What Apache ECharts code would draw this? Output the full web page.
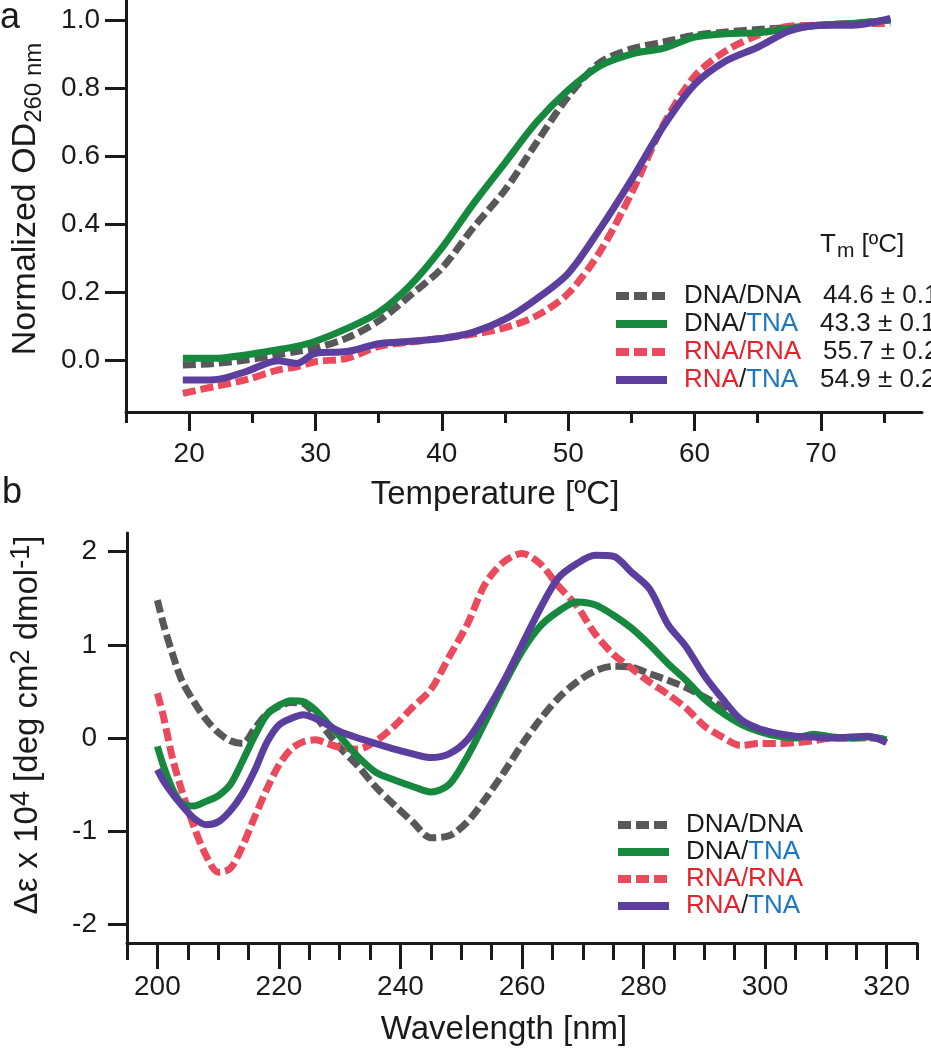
<!DOCTYPE html>
<html>
<head>
    <meta charset="utf-8"/>
    <title>Melting curves and CD spectra</title>
    <script src="https://cdn.jsdelivr.net/npm/echarts@6/dist/echarts.min.js"></script>
    <style>
        html, body { margin: 0; padding: 0; background: #fff; }
        #chart { width: 931px; height: 1050px; }
    </style>
</head>
<body>
<div id="chart"></div>
<script type="text/javascript">
    // panel a: melting curves (normalized OD260) vs temperature
    var tempC = [19.5, 22, 24.5, 27, 28.5, 30, 32.5, 35, 37.5, 40, 42.5, 45, 47.5, 50, 52.5, 55, 57.5, 60, 62.5, 65, 67.5, 70, 72.5, 75.5];
    var meltDnaDna = [-0.015, -0.01, 0.0, 0.015, 0.025, 0.035, 0.065, 0.115, 0.19, 0.27, 0.39, 0.5, 0.64, 0.775, 0.875, 0.915, 0.935, 0.955, 0.965, 0.972, 0.978, 0.985, 0.99, 1.0];
    var meltDnaTna = [0.005, 0.005, 0.015, 0.03, 0.04, 0.055, 0.093, 0.14, 0.22, 0.33, 0.46, 0.58, 0.70, 0.794, 0.865, 0.90, 0.917, 0.95, 0.96, 0.963, 0.975, 0.985, 0.99, 1.0];
    var meltRnaRna = [-0.098, -0.078, -0.058, -0.03, -0.02, -0.005, 0.005, 0.04, 0.053, 0.064, 0.076, 0.095, 0.13, 0.196, 0.318, 0.49, 0.69, 0.835, 0.91, 0.955, 0.982, 0.985, 0.99, 0.99];
    var meltRnaTna = [-0.059, -0.058, -0.034, -0.002, -0.01, 0.02, 0.025, 0.048, 0.055, 0.063, 0.082, 0.12, 0.18, 0.255, 0.385, 0.53, 0.685, 0.81, 0.88, 0.92, 0.968, 0.985, 0.985, 1.005];
    var tmValues = ['44.6 ± 0.1', '43.3 ± 0.1', '55.7 ± 0.2', '54.9 ± 0.2'];

    // panel b: CD spectra
    var waveNm = [200, 201, 202.5, 204, 206, 208, 210, 212, 214, 216, 218, 220, 222, 224, 226, 228, 230, 233, 236, 239, 242, 245, 248, 251, 254, 257, 260, 263, 266, 269, 272, 275, 278, 281, 284, 287, 290, 293, 296, 299, 302, 305, 308, 311, 314, 317, 320];
    var cdDnaDna = [1.48, 1.22, 0.9, 0.62, 0.39, 0.2, 0.06, -0.03, -0.06, 0.1, 0.26, 0.34, 0.38, 0.37, 0.24, 0.06, -0.1, -0.3, -0.53, -0.72, -0.9, -1.07, -1.05, -0.9, -0.65, -0.37, -0.07, 0.2, 0.43, 0.6, 0.72, 0.77, 0.76, 0.69, 0.62, 0.54, 0.44, 0.33, 0.18, 0.1, 0.04, 0.01, 0.03, 0.01, 0.0, 0.01, -0.02];
    var cdDnaTna = [-0.09, -0.3, -0.55, -0.7, -0.73, -0.68, -0.62, -0.5, -0.25, 0.02, 0.25, 0.35, 0.4, 0.39, 0.3, 0.16, 0.02, -0.2, -0.37, -0.45, -0.52, -0.58, -0.5, -0.2, 0.18, 0.57, 0.93, 1.2, 1.36, 1.46, 1.43, 1.32, 1.18, 1.0, 0.8, 0.62, 0.42, 0.27, 0.15, 0.07, 0.02, 0.0, 0.04, 0.01, 0.0, 0.01, -0.02];
    var cdRnaRna = [0.48, 0.23, -0.22, -0.56, -0.95, -1.26, -1.44, -1.4, -1.16, -0.85, -0.55, -0.29, -0.12, -0.04, -0.02, -0.06, -0.1, -0.12, -0.03, 0.13, 0.33, 0.52, 0.87, 1.22, 1.66, 1.89, 1.98, 1.87, 1.63, 1.42, 1.12, 0.9, 0.75, 0.6, 0.47, 0.32, 0.13, 0.01, -0.08, -0.06, -0.06, -0.05, -0.03, 0.0, 0.0, 0.0, -0.02];
    var cdRnaTna = [-0.34, -0.46, -0.6, -0.72, -0.86, -0.93, -0.9, -0.78, -0.6, -0.35, -0.05, 0.14, 0.21, 0.25, 0.21, 0.14, 0.07, 0.0, -0.06, -0.12, -0.17, -0.21, -0.17, -0.02, 0.27, 0.61, 1.0, 1.39, 1.72, 1.87, 1.96, 1.95, 1.78, 1.6, 1.22, 0.98, 0.67, 0.42, 0.2, 0.1, 0.05, 0.02, 0.01, 0.0, 0.01, 0.02, -0.05];

    // tick values
    var tempMajor = [20, 30, 40, 50, 60, 70];
    var tempMinor = [15, 25, 35, 45, 55, 65, 75];
    var odTicks = [0, 0.2, 0.4, 0.6, 0.8, 1.0];
    var waveMajor = [200, 220, 240, 260, 280, 300, 320];
    var waveMinor = [195, 205, 210, 215, 225, 230, 235, 245, 250, 255, 265, 270, 275, 285, 290, 295, 305, 310, 315, 325];
    var cdTicks = [-2, -1, 0, 1, 2];

    var names = ['DNA/DNA', 'DNA/TNA', 'RNA/RNA', 'RNA/TNA'];
    var colors = {'DNA/DNA': '#58585a', 'DNA/TNA': '#17893f', 'RNA/RNA': '#ea4a5c', 'RNA/TNA': '#5b3e9e'};
    var dashed = {'DNA/DNA': true, 'DNA/TNA': false, 'RNA/RNA': true, 'RNA/TNA': false};
    var richNames = {
        'DNA/DNA': '{k|DNA/DNA}',
        'DNA/TNA': '{k|DNA/}{b|TNA}',
        'RNA/RNA': '{r|RNA/RNA}',
        'RNA/TNA': '{r|RNA}{k|/}{b|TNA}'
    };

    var FONT = "'Liberation Sans', Arial, sans-serif";
    var INK = '#1a1a1a';

    function pairs(xs, ys) {
        return xs.map(function (x, i) { return [x, ys[i]]; });
    }

    function lineSeries(name, xi, yi, xs, ys) {
        return {
            name: name,
            type: 'line',
            xAxisIndex: xi,
            yAxisIndex: yi,
            data: pairs(xs, ys),
            symbol: 'none',
            smooth: 0.3,
            lineStyle: {
                color: colors[name],
                width: 7,
                type: dashed[name] ? [13, 5] : 'solid',
                cap: 'butt'
            },
            itemStyle: {color: colors[name]},
            z: 2
        };
    }

    var legendRich = {
        k: {color: INK, fontSize: 26, fontFamily: FONT},
        r: {color: '#e8202a', fontSize: 26, fontFamily: FONT},
        b: {color: '#1b78c0', fontSize: 26, fontFamily: FONT},
        v: {color: INK, fontSize: 26, fontFamily: FONT, padding: [0, 0, 0, 22]}
    };

    function axisX(grid, min, max, ticks, len, withLabel, name, nameGap, namePad) {
        return {
            type: 'value', gridIndex: grid, position: 'bottom', min: min, max: max,
            name: name || '', nameLocation: 'middle', nameGap: nameGap || 0,
            nameTextStyle: {fontSize: 33, fontFamily: FONT, color: INK, padding: namePad || 0},
            axisLine: {show: withLabel, onZero: false, lineStyle: {color: INK, width: 3}},
            axisTick: {show: true, inside: false, length: len, customValues: ticks, lineStyle: {color: INK, width: 3}},
            axisLabel: withLabel ? {show: true, customValues: ticks, fontSize: 28, fontFamily: FONT, color: INK, margin: grid === 0 ? 28 : 30}
                                 : {show: false, customValues: ticks},
            splitLine: {show: false}
        };
    }

    var legendCommon = {
        orient: 'vertical', itemWidth: 51, itemHeight: 14, selectedMode: false,
        itemStyle: {color: 'transparent', borderWidth: 0, opacity: 0},
        lineStyle: {width: 8},
        textStyle: {fontSize: 26, fontFamily: FONT, color: INK, padding: [0, 0, 0, 12], rich: legendRich}
    };

    var myChart = echarts.init(document.getElementById('chart'), null, {renderer: 'canvas'});

    var option = {
        backgroundColor: '#fff',
        animation: false,
        grid: [
            {left: 126, top: 0, width: 796, height: 412},
            {left: 123, top: 533, width: 794, height: 410}
        ],
        xAxis: [
            axisX(0, 15, 78, tempMajor, 19, true, 'Temperature [ºC]', 66, [0, 58, 0, 0]),
            axisX(0, 15, 78, tempMinor, 11, false),
            axisX(1, 195, 325, waveMajor, 26, true, 'Wavelength [nm]', 70, [0, 36, 0, 0]),
            axisX(1, 195, 325, waveMinor, 17, false)
        ],
        yAxis: [
            {
                type: 'value', gridIndex: 0, min: -0.153, max: 1.059,
                name: '{t|Normalized OD}{s|260 nm}', nameLocation: 'middle', nameGap: 80,
                nameTextStyle: {
                    fontSize: 34, fontFamily: FONT, color: INK, padding: [0, 0, 0, 14],
                    rich: {
                        t: {fontSize: 34, fontFamily: FONT, color: INK},
                        s: {fontSize: 24, fontFamily: FONT, color: INK, padding: [16, 0, 0, 0]}
                    }
                },
                axisLine: {show: true, onZero: false, lineStyle: {color: INK, width: 3}},
                axisTick: {show: true, length: 21, customValues: odTicks, lineStyle: {color: INK, width: 3}},
                axisLabel: {customValues: odTicks, fontSize: 28, fontFamily: FONT, color: INK, margin: 26,
                    formatter: function (v) { return v.toFixed(1); }},
                splitLine: {show: false}
            },
            {
                type: 'value', gridIndex: 1, min: -2.2, max: 2.2,
                name: '{t|Δε x 10}{p|4}{t| [deg cm}{p|2}{t| dmol}{p|-1}{t|]}', nameLocation: 'middle', nameGap: 80,
                nameTextStyle: {
                    fontSize: 33, fontFamily: FONT, color: INK, padding: [0, 0, 0, 26],
                    rich: {
                        t: {fontSize: 33, fontFamily: FONT, color: INK},
                        p: {fontSize: 27, fontFamily: FONT, color: INK, padding: [0, 0, 12, 0]}
                    }
                },
                axisLine: {show: true, onZero: false, lineStyle: {color: INK, width: 3}},
                axisTick: {show: true, length: 19, customValues: cdTicks, lineStyle: {color: INK, width: 3}},
                axisLabel: {customValues: cdTicks, fontSize: 28, fontFamily: FONT, color: INK, margin: 30},
                splitLine: {show: false}
            }
        ],
        legend: [
            Object.assign({}, legendCommon, {
                data: names, left: 607, top: 278, itemGap: 2,
                formatter: function (n) { return richNames[n] + '{v|' + tmValues[names.indexOf(n)] + '}'; }
            }),
            Object.assign({}, legendCommon, {
                data: names, left: 609, top: 807, itemGap: 1,
                formatter: function (n) { return richNames[n]; }
            })
        ],
        graphic: [
            {type: 'text', left: 0, top: 0, style: {text: 'a', fontSize: 36, fontFamily: FONT, fill: INK}},
            {type: 'text', left: 2, top: 475, style: {text: 'b', fontSize: 36, fontFamily: FONT, fill: INK}},
            {
                type: 'text', left: 820, top: 232,
                style: {
                    text: '{t|T}{s|m}{t| [ºC]}',
                    fontSize: 26, fontFamily: FONT, fill: INK,
                    rich: {
                        t: {fontSize: 26, fontFamily: FONT, fill: INK},
                        s: {fontSize: 21, fontFamily: FONT, fill: INK, padding: [12, 0, 0, 1]}
                    }
                }
            }
        ],
        series: [
            lineSeries('DNA/DNA', 0, 0, tempC, meltDnaDna),
            lineSeries('RNA/RNA', 0, 0, tempC, meltRnaRna),
            lineSeries('DNA/TNA', 0, 0, tempC, meltDnaTna),
            lineSeries('RNA/TNA', 0, 0, tempC, meltRnaTna),
            lineSeries('DNA/DNA', 2, 1, waveNm, cdDnaDna),
            lineSeries('RNA/RNA', 2, 1, waveNm, cdRnaRna),
            lineSeries('DNA/TNA', 2, 1, waveNm, cdDnaTna),
            lineSeries('RNA/TNA', 2, 1, waveNm, cdRnaTna)
        ]
    };

    myChart.setOption(option);
</script>
</body>
</html>
